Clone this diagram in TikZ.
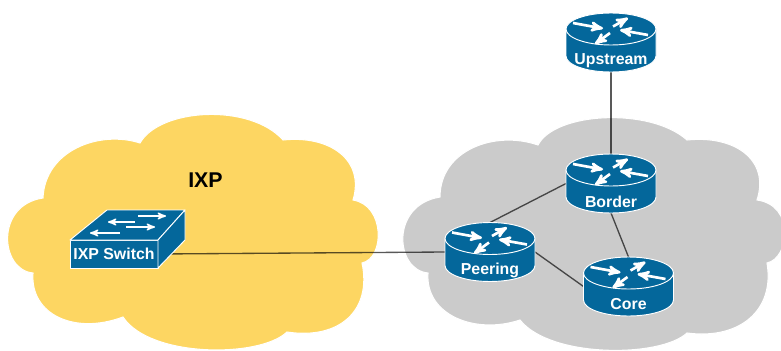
\documentclass[tikz,border=0pt]{standalone}
\usepackage{fontspec}
\setmainfont{Liberation Sans}
\usetikzlibrary{arrows,calc}
\usetikzlibrary{backgrounds,positioning}
\definecolor{ciscoblue}{HTML}{04679B}
\definecolor{ixpyellow}{HTML}{FDD662}
\definecolor{cloudgray}{HTML}{CBCBCB}

\begin{document}
\begin{tikzpicture}[x=0.75pt,y=-0.75pt,cap=round]
	\tikzstyle{cloud line}=[draw=white,line width=0.8pt]
	\tikzstyle{link}=[draw=black,opacity=0.65,line width=1pt]
	\tikzstyle{device}=[draw=white,fill=ciscoblue,line width=0.7pt,line join=round]
	\tikzstyle{routerbox}=[minimum width=67.5pt,minimum height=44.25pt,inner sep=0pt,outer sep=0pt]
	\tikzstyle{devicetext}=[text=white,font=\bfseries\fontsize{11.9}{14}\selectfont,inner sep=0pt]
	\tikzstyle{fwd}=[->,>=stealth',white,line width=2pt,cap=butt]

	% #1 name, #2 position, #3 text
	\def\router#1#2#3{
		\node[routerbox] (#1) at (#2) {};
		\begin{scope}[shift={(#1.center)}]
			\draw[device] (-45,-13.5) -- (-45,13.5) arc (180:0:45 and 16) -- (45,-13.5);
			\draw[device] (0,-13.5) ellipse (45 and 16);
			\draw[fwd] (-38,-19.5) -- (-8,-14);
			\draw[fwd] (2,-16) -- (17,-24.5);
			\draw[fwd] (37,-7.5) -- (9,-12.5);
			\draw[fwd] (-1,-9.5) -- (-16,1.5);
		\end{scope}
		\node[devicetext] (#1text) at ([yshift=-13.5pt]#1.center) {#3};
	}

	\useasboundingbox (0,0) rectangle (781,350);

	\begin{pgfonlayer}{background}
		%clouds
		\draw[cloud line,fill=ixpyellow] (140,143)
			.. controls (160,108) and (250,103) .. (283,140)
			.. controls (330,135) and (365,160) .. (353,200)
			.. controls (385,205) and (385,258) .. (362,263)
			.. controls (372,310) and (340,340) .. (287,332)
			.. controls (260,358) and (150,358) .. (123,317)
			.. controls (75,335) and (30,315) .. (33,273)
			.. controls (0,270) and (-5,205) .. (43,198)
			.. controls (45,150) and (100,130) .. (140,143) -- cycle;
		\draw[cloud line,fill=cloudgray] (538,145)
			.. controls (555,112) and (650,107) .. (687,140)
			.. controls (735,135) and (770,160) .. (757,200)
			.. controls (795,205) and (790,258) .. (767,263)
			.. controls (775,310) and (740,340) .. (687,333)
			.. controls (660,358) and (550,358) .. (520,320)
			.. controls (475,335) and (425,315) .. (428,273)
			.. controls (395,270) and (390,205) .. (440,197)
			.. controls (440,150) and (495,130) .. (538,145) -- cycle;
	\end{pgfonlayer}

	%switch
	\node[device,text=white,font=\bfseries\fontsize{11.9}{14}\selectfont,minimum width=66pt,minimum height=21pt,inner sep=0pt,outer sep=0pt] (ixpswitch) at (114,254) {IXP Switch};
	\draw[device] (ixpswitch.north west) -- (107,210) -- (185,210) -- (ixpswitch.north east) -- cycle;
	\draw[device] (ixpswitch.north east) -- (185,210) -- (185,240) -- (ixpswitch.south east) -- cycle;
	\draw[fwd,line width=1.2pt] (138,216) -- (166,216);
	\draw[fwd,line width=1.2pt] (135,222) -- (108,222);
	\draw[fwd,line width=1.2pt] (126,227) -- (155,227);
	\draw[fwd,line width=1.2pt] (120,233) -- (90,233);

	\node[font=\bfseries\fontsize{16}{18}\selectfont,inner sep=0pt] (ixplabel) at (205.5,180) {IXP};

	%routers
	\router{upstream}{611,42.5}{Upstream}
	\router{border}{611,183.5}{Border}
	\router{peering}{490,252}{Peering}
	\router{core}{628.5,286.5}{Core}

	%links
	\begin{pgfonlayer}{background}
		\draw[link] (upstream.south) -- (border.north);
		\draw[link] (border.west) -- (peering.north);
		\draw[link] (border.south) -- (core.north);
		\draw[link] (peering.east) -- (core.west);
		\draw[link] (ixpswitch.east) -- (peering.west);
	\end{pgfonlayer}
\end{tikzpicture}
\end{document}
